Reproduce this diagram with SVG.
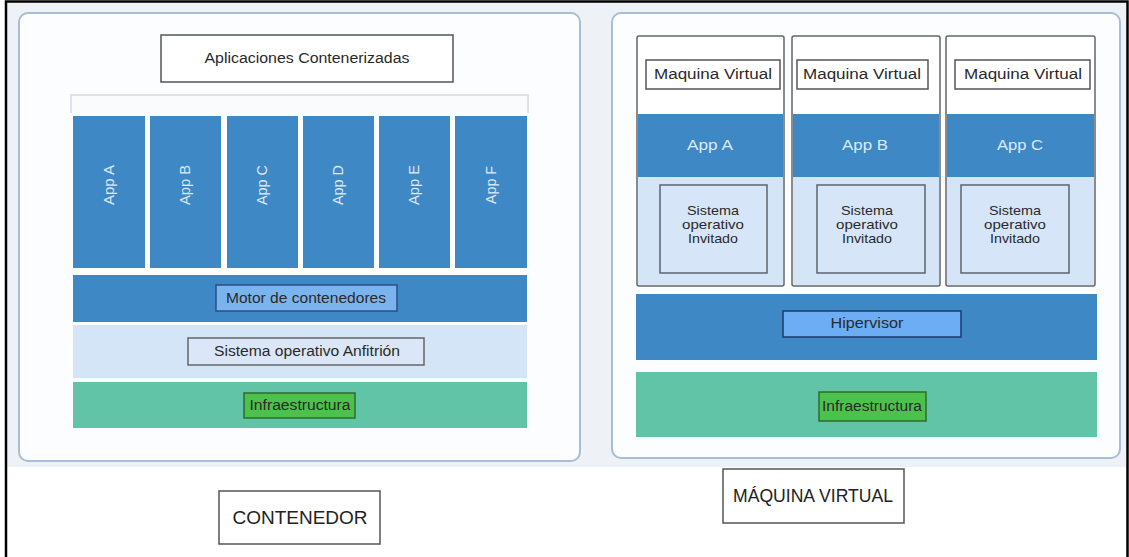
<svg xmlns="http://www.w3.org/2000/svg" width="1129" height="557" viewBox="0 0 1129 557">
  <style>
    .panel { fill: #fbfdff; stroke: #a9bdd4; stroke-width: 2; }
    .blue { fill: #3f88c6; }
    .lightblue { fill: #d3e5f6; }
    .green { fill: #61c4a6; }
    .lbl { font-family: "Liberation Sans", Arial, sans-serif; font-size: 14px; fill: #2a2a2a; text-anchor: middle; }
    .sm { font-size: 13.5px; }
    .wlbl { font-family: "Liberation Sans", Arial, sans-serif; font-size: 14px; fill: #dce9f7; text-anchor: middle; }
    .big { font-family: "Liberation Sans", Arial, sans-serif; font-size: 19px; fill: #222; text-anchor: middle; }
    .box { fill: #ffffff; stroke: #555; stroke-width: 1.5; }
    .motor { fill: #7ab4ef; stroke: #2a4f86; stroke-width: 1.5; }
    .hyper { fill: #6cadf3; stroke: #1d3a6e; stroke-width: 1.5; }
    .infra { fill: #4cc14c; stroke: #2f6b2f; stroke-width: 1.5; }
    .os { fill: #dbe7f8; stroke: #666; stroke-width: 1.5; }
    .vm { fill: #ffffff; stroke: #666; stroke-width: 1.5; }
    .guest { fill: #d6e6f8; stroke: #5d6470; stroke-width: 1.5; }
  </style>

  <!-- page and frame -->
  <rect x="0" y="0" width="1129" height="557" fill="#ffffff"/>
  <rect x="6" y="2" width="1121" height="465" fill="#eef2f7"/>
  <path d="M6 557 V1.5 H1127.5 V557" fill="none" stroke="#000" stroke-width="2.5"/>

  <!-- container stack -->
  <g id="contenedor">
    <rect class="panel" x="19" y="13" width="561" height="448" rx="9"/>
    <g id="aplicaciones">
      <rect class="box" x="161" y="35" width="292" height="47"/>
      <text class="lbl" x="307" y="63" textLength="205" lengthAdjust="spacingAndGlyphs">Aplicaciones Contenerizadas</text>
    </g>
    <path d="M71 113 V95 H528 V113" fill="#fafbfc" stroke="#dde2e8" stroke-width="2"/>
    <g id="app-a"><rect class="blue" x="73" y="116" width="72" height="152"/><text class="wlbl" transform="translate(114 185) rotate(-90)" textLength="40" lengthAdjust="spacingAndGlyphs">App A</text></g>
    <g id="app-b"><rect class="blue" x="150" y="116" width="71" height="152"/><text class="wlbl" transform="translate(190 185) rotate(-90)" textLength="40" lengthAdjust="spacingAndGlyphs">App B</text></g>
    <g id="app-c"><rect class="blue" x="227" y="116" width="71" height="152"/><text class="wlbl" transform="translate(267 185) rotate(-90)" textLength="40" lengthAdjust="spacingAndGlyphs">App C</text></g>
    <g id="app-d"><rect class="blue" x="303" y="116" width="71" height="152"/><text class="wlbl" transform="translate(343 185) rotate(-90)" textLength="40" lengthAdjust="spacingAndGlyphs">App D</text></g>
    <g id="app-e"><rect class="blue" x="379" y="116" width="71" height="152"/><text class="wlbl" transform="translate(419 185) rotate(-90)" textLength="40" lengthAdjust="spacingAndGlyphs">App E</text></g>
    <g id="app-f"><rect class="blue" x="455" y="116" width="72" height="152"/><text class="wlbl" transform="translate(496 185) rotate(-90)" textLength="38" lengthAdjust="spacingAndGlyphs">App F</text></g>
    <g id="motor">
      <rect class="blue" x="73" y="275" width="454" height="47"/>
      <rect class="motor" x="216" y="285" width="181" height="26"/>
      <text class="lbl" x="306" y="303" textLength="160" lengthAdjust="spacingAndGlyphs">Motor de contenedores</text>
    </g>
    <g id="so-anfitrion">
      <rect class="lightblue" x="73" y="325" width="454" height="53"/>
      <rect class="os" x="188" y="338" width="236" height="27"/>
      <text class="lbl" x="307" y="356" textLength="186" lengthAdjust="spacingAndGlyphs">Sistema operativo Anfitrión</text>
    </g>
    <g id="infra-contenedor">
      <rect class="green" x="73" y="382" width="454" height="46"/>
      <rect class="infra" x="244" y="393" width="111" height="25"/>
      <text class="lbl" x="300" y="410" textLength="101" lengthAdjust="spacingAndGlyphs">Infraestructura</text>
    </g>
  </g>

  <!-- virtual machine stack -->
  <g id="maquina-virtual">
    <rect class="panel" x="612" y="13" width="508" height="445" rx="9"/>
    <g id="vm-a">
      <rect class="vm" x="637" y="36" width="147" height="250" rx="2"/>
      <rect class="box" x="646" y="60" width="134" height="29"/>
      <text class="lbl" x="713" y="79" textLength="118" lengthAdjust="spacingAndGlyphs">Maquina Virtual</text>
      <rect class="blue" x="638" y="114" width="145" height="63"/>
      <text class="wlbl" x="710" y="150" textLength="46" lengthAdjust="spacingAndGlyphs">App A</text>
      <rect class="lightblue" x="638" y="177" width="145" height="108"/>
      <rect class="guest" x="660" y="185" width="107" height="88"/>
      <text class="lbl sm" x="713" y="215" textLength="52" lengthAdjust="spacingAndGlyphs">Sistema</text>
      <text class="lbl sm" x="713" y="229" textLength="62" lengthAdjust="spacingAndGlyphs">operativo</text>
      <text class="lbl sm" x="713" y="243" textLength="50" lengthAdjust="spacingAndGlyphs">Invitado</text>
    </g>
    <g id="vm-b">
      <rect class="vm" x="792" y="36" width="148" height="250" rx="2"/>
      <rect class="box" x="797" y="60" width="131" height="29"/>
      <text class="lbl" x="862" y="79" textLength="118" lengthAdjust="spacingAndGlyphs">Maquina Virtual</text>
      <rect class="blue" x="793" y="114" width="146" height="63"/>
      <text class="wlbl" x="865" y="150" textLength="46" lengthAdjust="spacingAndGlyphs">App B</text>
      <rect class="lightblue" x="793" y="177" width="146" height="108"/>
      <rect class="guest" x="817" y="185" width="108" height="88"/>
      <text class="lbl sm" x="867" y="215" textLength="52" lengthAdjust="spacingAndGlyphs">Sistema</text>
      <text class="lbl sm" x="867" y="229" textLength="62" lengthAdjust="spacingAndGlyphs">operativo</text>
      <text class="lbl sm" x="867" y="243" textLength="50" lengthAdjust="spacingAndGlyphs">Invitado</text>
    </g>
    <g id="vm-c">
      <rect class="vm" x="946" y="36" width="149" height="250" rx="2"/>
      <rect class="box" x="955" y="60" width="135" height="29"/>
      <text class="lbl" x="1023" y="79" textLength="118" lengthAdjust="spacingAndGlyphs">Maquina Virtual</text>
      <rect class="blue" x="947" y="114" width="147" height="63"/>
      <text class="wlbl" x="1020" y="150" textLength="46" lengthAdjust="spacingAndGlyphs">App C</text>
      <rect class="lightblue" x="947" y="177" width="147" height="108"/>
      <rect class="guest" x="961" y="185" width="108" height="88"/>
      <text class="lbl sm" x="1015" y="215" textLength="52" lengthAdjust="spacingAndGlyphs">Sistema</text>
      <text class="lbl sm" x="1015" y="229" textLength="62" lengthAdjust="spacingAndGlyphs">operativo</text>
      <text class="lbl sm" x="1015" y="243" textLength="50" lengthAdjust="spacingAndGlyphs">Invitado</text>
    </g>
    <g id="hipervisor">
      <rect class="blue" x="636" y="294" width="461" height="66"/>
      <rect class="hyper" x="783" y="311" width="178" height="26"/>
      <text class="lbl" x="867" y="328" textLength="73" lengthAdjust="spacingAndGlyphs">Hipervisor</text>
    </g>
    <g id="infra-vm">
      <rect class="green" x="636" y="372" width="461" height="65"/>
      <rect class="infra" x="819" y="392" width="107" height="29"/>
      <text class="lbl" x="872" y="411" textLength="100" lengthAdjust="spacingAndGlyphs">Infraestructura</text>
    </g>
  </g>

  <!-- captions -->
  <g id="titulo-contenedor">
    <rect x="219" y="491" width="161" height="53" fill="#ffffff" stroke="#555" stroke-width="1.5"/>
    <text class="big" x="300" y="524">CONTENEDOR</text>
  </g>
  <g id="titulo-vm">
    <rect x="723" y="469" width="181" height="54" fill="#ffffff" stroke="#555" stroke-width="1.5"/>
    <text class="big" x="813" y="502" textLength="160" lengthAdjust="spacingAndGlyphs">MÁQUINA VIRTUAL</text>
  </g>
</svg>
